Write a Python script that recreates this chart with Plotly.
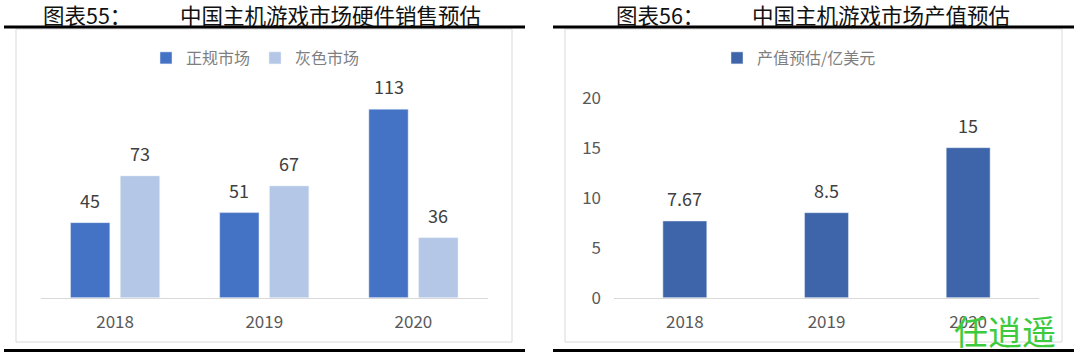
import plotly.graph_objects as go

# ---- data ----
years = ["2018", "2019", "2020"]
formal_market = [45, 51, 113]      # 正规市场
gray_market = [73, 67, 36]         # 灰色市场
output_value = [7.67, 8.5, 15]     # 产值预估/亿美元
output_labels = ["7.67", "8.5", "15"]
right_ticks = [0, 5, 10, 15, 20]

left_title_no = "图表55："
left_title = "中国主机游戏市场硬件销售预估"
right_title_no = "图表56："
right_title = "中国主机游戏市场产值预估"
left_names = ["正规市场", "灰色市场"]
right_name = "产值预估/亿美元"
watermark = "任逍遥"

W, H = 1080, 355
def px(x):
    return x / W
def py(y):
    return 1 - y / H

FONT = "Noto Sans CJK SC, Noto Sans, sans-serif"
C_BLUE = "#4472C4"
C_LIGHT = "#B4C7E7"
C_DARK = "#3E65A9"

fig = go.Figure()

fig.add_trace(go.Bar(x=years, y=formal_market, name=left_names[0], marker_color=C_BLUE,
                     xaxis="x", yaxis="y", legend="legend", hoverinfo="skip"))
fig.add_trace(go.Bar(x=years, y=gray_market, name=left_names[1], marker_color=C_LIGHT,
                     xaxis="x", yaxis="y", legend="legend", hoverinfo="skip"))
fig.add_trace(go.Bar(x=years, y=output_value, name=right_name, marker_color=C_DARK,
                     xaxis="x2", yaxis="y2", legend="legend2", width=0.31, hoverinfo="skip"))

label_font = dict(family=FONT, size=18, color="#404040")
annotations = []
# data labels (category index positions)
for i, yr in enumerate(years):
    annotations.append(dict(x=i, y=formal_market[i], xref="x", yref="y", text=str(formal_market[i]),
                            showarrow=False, yshift=23, xshift=-24.9, yanchor="middle", font=label_font))
    annotations.append(dict(x=i, y=gray_market[i], xref="x", yref="y", text=str(gray_market[i]),
                            showarrow=False, yshift=23, xshift=24.9, yanchor="middle", font=label_font))
    annotations.append(dict(x=i, y=output_value[i], xref="x2", yref="y2", text=output_labels[i],
                            showarrow=False, yshift=23, yanchor="middle", font=label_font))

# titles
for x0, t in [(41, left_title_no), (178, left_title), (614, right_title_no), (750, right_title)]:
    annotations.append(dict(x=px(x0), y=py(15), xref="paper", yref="paper", text=t, showarrow=False,
                            xanchor="left", yanchor="middle",
                            font=dict(family=FONT, size=21.5, color="#111111")))
# watermark
annotations.append(dict(x=px(1005), y=py(330), xref="paper", yref="paper", text=watermark, showarrow=False,
                        xanchor="center", yanchor="middle",
                        font=dict(family=FONT, size=34, color="#3DCB3D")))

shapes = []
# chart boxes
for x0, x1 in [(16, 512), (565, 1062)]:
    shapes.append(dict(type="rect", xref="paper", yref="paper", x0=px(x0), x1=px(x1), y0=py(342), y1=py(29),
                       line=dict(color="#D9D9D9", width=1), fillcolor="rgba(0,0,0,0)", layer="below"))
# black rules
for x0, x1 in [(4, 525), (553, 1074)]:
    for yy in (27, 350.5):
        shapes.append(dict(type="line", xref="paper", yref="paper", x0=px(x0), x1=px(x1), y0=py(yy), y1=py(yy),
                           line=dict(color="#000000", width=3)))

axis_font = dict(family=FONT, size=17, color="#595959")
fig.update_layout(
    width=W, height=H, autosize=False,
    margin=dict(l=0, r=0, t=0, b=0, autoexpand=False),
    paper_bgcolor="white", plot_bgcolor="white",
    barmode="group", bargap=0.332, bargroupgap=0.211,
    showlegend=True,
    xaxis=dict(domain=[px(40.5), px(488)], type="category", showline=True, linecolor="#D9D9D9", linewidth=1,
               ticks="", tickfont=axis_font, showgrid=False, zeroline=False, anchor="y", ticklabelstandoff=9),
    yaxis=dict(domain=[py(297.7), py(90)], range=[0, 124.5], visible=False, anchor="x"),
    xaxis2=dict(domain=[px(614), px(1039)], type="category", showline=True, linecolor="#D9D9D9", linewidth=1,
                ticks="", tickfont=axis_font, showgrid=False, zeroline=False, anchor="y2", ticklabelstandoff=9),
    yaxis2=dict(domain=[py(297.7), py(97.7)], range=[0, 20], tickvals=right_ticks, showgrid=False,
                zeroline=False, showline=False, ticks="", tickfont=axis_font, anchor="x2", ticklabelstandoff=12),
    legend=dict(orientation="h", x=px(146), y=py(58), xanchor="left", yanchor="middle",
                font=dict(family=FONT, size=16, color="#7F7F7F"), itemwidth=30, bgcolor="rgba(0,0,0,0)",
                itemclick=False),
    legend2=dict(orientation="h", x=px(717), y=py(58), xanchor="left", yanchor="middle",
                 font=dict(family=FONT, size=16, color="#7F7F7F"), itemwidth=30, bgcolor="rgba(0,0,0,0)",
                 itemclick=False),
    annotations=annotations,
    shapes=shapes,
)

fig.write_html("out.html", config={"displayModeBar": False},
               post_script="document.body.style.margin='0';document.body.style.overflow='hidden';")
